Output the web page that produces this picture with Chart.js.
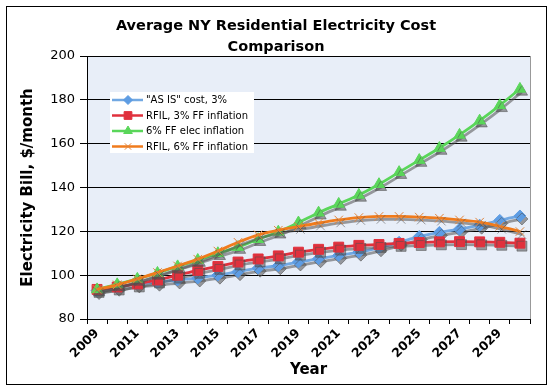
<!DOCTYPE html>
<html>
<head>
<meta charset="utf-8">
<script src="https://cdn.jsdelivr.net/npm/chart.js@4/dist/chart.umd.min.js"></script>
<style>
  html, body { margin: 0; padding: 0; background: #fff; }
  #box { width: 552px; height: 389px; position: relative; }
</style>
</head>
<body>
<div id="box"><canvas id="cost-chart" width="552" height="389"></canvas></div>
<script>
let years = ['2009', '2010', '2011', '2012', '2013', '2014', '2015', '2016', '2017', '2018', '2019',
             '2020', '2021', '2022', '2023', '2024', '2025', '2026', '2027', '2028', '2029', '2030'];

let asIsCost = [93, 94.5, 96, 96.8, 97.8, 98.7, 100, 101.6, 103.2, 104.3, 106,
                107.5, 109, 110.5, 112.5, 115, 117.6, 119.5, 121, 122.8, 125, 127];
let rfil3 = [93.5, 94.6, 96, 97.8, 100, 102.2, 104, 106, 107.4, 108.8, 110.5,
             111.8, 112.8, 113.6, 114, 114.5, 114.9, 115.2, 115.3, 115.2, 115, 114.6];
let elec6 = [93.5, 95.8, 98.3, 101, 104, 106.9, 110, 112.8, 116.4, 119.8, 124,
             128.5, 132.5, 136.6, 141.5, 147, 152.5, 158, 164, 170.5, 177.5, 185];
let rfil6 = [93.5, 95.6, 98.3, 101.2, 104.2, 107.3, 111, 115, 118.4, 120.5, 122.2,
             123.8, 125.2, 126.3, 126.8, 126.8, 126.5, 126, 125.2, 124.2, 122.3, 119.9];

let seriesNames = ['"AS IS" cost, 3%', 'RFIL, 3% FF inflation', '6% FF elec inflation', 'RFIL, 6% FF inflation'];
let colours = ['#72a8e2', '#e0313d', '#5ad65a', '#f07b1c'];
let pointColours = ['#5d9ce3', '#e0313d', '#5ad65a', '#e0843c'];
let markers = ['rectRot', 'rect', 'triangle', 'crossRot'];
let markerSizes = [6, 7, 6.5, 6];

const FONT = '"DejaVu Sans", Verdana, sans-serif';

function makeSet(i, data) {
  return {
    label: seriesNames[i],
    data: data,
    borderColor: colours[i],
    backgroundColor: pointColours[i],
    pointBorderColor: pointColours[i],
    pointBackgroundColor: pointColours[i],
    pointStyle: markers[i],
    pointRadius: markerSizes[i],
    pointBorderWidth: 1,
    borderWidth: 2.8,
    tension: 0.35,
    order: 3 - i
  };
}

// frame, plot background, title
const frame = {
  id: 'frame',
  beforeDraw(chart) {
    const ctx = chart.ctx, a = chart.chartArea;
    ctx.save();
    ctx.fillStyle = '#fff';
    ctx.fillRect(0, 0, chart.width, chart.height);
    ctx.fillStyle = '#e8eef8';
    ctx.fillRect(a.left, a.top, a.right - a.left, a.bottom - a.top);
    ctx.strokeStyle = '#999';
    ctx.lineWidth = 1;
    ctx.beginPath();
    ctx.moveTo(a.right + 0.5, a.top);
    ctx.lineTo(a.right + 0.5, a.bottom);
    ctx.stroke();
    ctx.strokeStyle = '#000';
    ctx.strokeRect(6.5, 6.5, 540, 378);
    ctx.fillStyle = '#000';
    ctx.font = 'bold 14.5px ' + FONT;
    ctx.textAlign = 'center';
    ctx.textBaseline = 'middle';
    ctx.fillText('Average NY Residential Electricity Cost', 276, 26);
    ctx.fillText('Comparison', 276, 47);
    ctx.restore();
  },
  // grey drop shadow under lines and markers
  beforeDatasetsDraw(chart) {
    const ctx = chart.ctx;
    ctx.save();
    ctx.shadowColor = 'rgba(80,80,80,0.55)';
    ctx.shadowOffsetX = 2;
    ctx.shadowOffsetY = 3;
    ctx.shadowBlur = 0;
  },
  afterDatasetsDraw(chart) {
    chart.ctx.restore();
  }
};

// legend box inside the plot
const boxLegend = {
  id: 'boxLegend',
  afterDraw(chart) {
    const ctx = chart.ctx;
    const x0 = 110, y0 = 92, w = 144, h = 61;
    ctx.save();
    ctx.fillStyle = '#fff';
    ctx.fillRect(x0, y0, w, h);
    ctx.font = '10px ' + FONT;
    ctx.textBaseline = 'middle';
    ctx.textAlign = 'left';
    seriesNames.forEach((name, i) => {
      const y = y0 + 8 + i * 15.5;
      ctx.strokeStyle = colours[i];
      ctx.lineWidth = 2.5;
      ctx.beginPath();
      ctx.moveTo(x0 + 2, y);
      ctx.lineTo(x0 + 33, y);
      ctx.stroke();
      ctx.fillStyle = pointColours[i];
      ctx.strokeStyle = pointColours[i];
      ctx.lineWidth = 1;
      Chart.helpers.drawPoint(ctx, {
        pointStyle: markers[i], radius: markerSizes[i] - 1.5, rotation: 0, borderWidth: 1
      }, x0 + 18, y);
      ctx.fillStyle = '#000';
      ctx.fillText(name, x0 + 36, y + 0.5);
    });
    ctx.restore();
  }
};

window.addEventListener('DOMContentLoaded', () => {
  const chartBox = document.getElementById('cost-chart');
  new Chart(chartBox, {
    type: 'line',
    data: {
      labels: years,
      datasets: [makeSet(0, asIsCost), makeSet(1, rfil3), makeSet(2, elec6), makeSet(3, rfil6)]
    },
    options: {
      responsive: false,
      animation: false,
      devicePixelRatio: 1,
      layout: { padding: { left: 0, top: 56, right: 22, bottom: 0 } },
      plugins: {
        legend: { display: false },
        tooltip: { enabled: false },
        title: { display: false }
      },
      scales: {
        x: {
          type: 'category',
          offset: true,
          grid: { drawOnChartArea: false, drawTicks: true, tickLength: 5, color: '#000', offset: true },
          border: { color: '#000', width: 1 },
          ticks: {
            autoSkip: false,
            minRotation: 45,
            maxRotation: 45,
            color: '#000',
            padding: 2,
            font: { family: FONT, size: 12.5, weight: 'bold' },
            callback: function (v, i) { return i % 2 === 0 ? this.getLabelForValue(v) : ''; }
          },
          title: {
            display: true,
            text: 'Year',
            color: '#000',
            font: { family: FONT, size: 15, weight: 'bold' },
            padding: { top: 0, bottom: 10 }
          },
          afterFit: (s) => { s.height = 70; }
        },
        y: {
          min: 80,
          max: 200,
          grid: { color: '#000', lineWidth: 1, tickLength: 7, drawTicks: true },
          border: { color: '#000', width: 1 },
          ticks: {
            stepSize: 20,
            color: '#000',
            padding: 5,
            font: { family: FONT, size: 13 }
          },
          title: {
            display: true,
            text: 'Electricity Bill, $/month',
            color: '#000',
            font: { family: FONT, size: 15, weight: 'bold' },
            padding: { top: 19, bottom: 0 }
          },
          afterFit: (s) => { s.width = 87; }
        }
      }
    },
    plugins: [frame, boxLegend]
  });
});
</script>
</body>
</html>
